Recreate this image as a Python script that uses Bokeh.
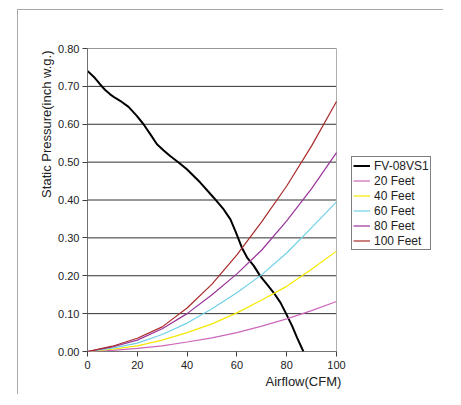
import numpy as np
from bokeh.plotting import figure
from bokeh.models import Legend, LegendItem, Title, NumeralTickFormatter, FixedTicker, Range1d
from bokeh.embed import file_html
from bokeh.resources import INLINE

# Fan curve (FV-08VS1)
fan_x = [0, 3, 5.1, 7, 9.1, 11, 13.1, 16.5, 19.8, 22.5, 25.2, 27.9, 30.6, 33.2, 36.6, 39.9, 45.3, 50.7, 54.7,
         57.4, 59.4, 60.7, 62, 64.1, 66.8, 69.4, 72.1, 74.8, 77.5, 79.9, 82.2, 84.2, 86.7]
fan_y = [0.741, 0.722, 0.705, 0.691, 0.679, 0.670, 0.662, 0.646, 0.622, 0.600, 0.574, 0.547, 0.531, 0.516,
         0.499, 0.481, 0.446, 0.406, 0.375, 0.349, 0.318, 0.296, 0.274, 0.248, 0.226, 0.199, 0.177, 0.155,
         0.129, 0.098, 0.067, 0.036, 0.0]

# System curves
sys_x = [0, 10, 20, 30, 40, 50, 60, 70, 80, 90, 100]
feet20 = [0, 0.003, 0.008, 0.015, 0.025, 0.036, 0.050, 0.067, 0.086, 0.108, 0.132]
feet40 = [0, 0.006, 0.015, 0.030, 0.050, 0.073, 0.102, 0.136, 0.172, 0.217, 0.265]
feet60 = [0, 0.009, 0.022, 0.045, 0.075, 0.113, 0.155, 0.203, 0.260, 0.327, 0.395]
feet80 = [0, 0.012, 0.030, 0.060, 0.100, 0.150, 0.205, 0.268, 0.345, 0.430, 0.525]
feet100 = [0, 0.014, 0.035, 0.065, 0.115, 0.178, 0.255, 0.343, 0.437, 0.543, 0.660]

series_names = ["FV-08VS1", "20 Feet", "40 Feet", "60 Feet", "80 Feet", "100 Feet"]
y_ticks = [0, 0.1, 0.2, 0.3, 0.4, 0.5, 0.6, 0.7, 0.8]
x_ticks = [0, 20, 40, 60, 80, 100]

FONT = "Liberation Sans"
X_MAX = 100
Y_MAX = 0.8

W, H = 426, 385
ML, MR, MT, MB = 69, 0, 38, 44
frame_w = W - ML - MR
# x=100 sits at 249 px from frame left; the frame continues to hold the legend
x_end = X_MAX * frame_w / 249.0

p = figure(width=W, height=H, output_backend="svg", toolbar_location=None,
           x_range=Range1d(0, x_end), y_range=Range1d(0, Y_MAX),
           min_border_left=ML, min_border_top=MT, min_border_right=MR, min_border_bottom=MB)
p.styles = {"border-top": "1px solid #a8a8a8", "border-left": "1px solid #a8a8a8",
            "margin-left": "17px", "margin-top": "9px"}
p.background_fill_color = "white"
p.border_fill_color = "white"
p.outline_line_color = None
p.grid.grid_line_color = None

p.xaxis.ticker = FixedTicker(ticks=x_ticks)
p.yaxis.ticker = FixedTicker(ticks=y_ticks)
p.yaxis.formatter = NumeralTickFormatter(format="0.00")
for ax in (p.xaxis[0], p.yaxis[0]):
    ax.axis_line_color = "#707070"
    ax.major_tick_line_color = "#404040"
    ax.major_tick_out = 5
    ax.major_tick_in = 0
    ax.minor_tick_line_color = None
    ax.major_label_text_font = FONT
    ax.major_label_text_font_size = "11px"
    ax.major_label_text_color = "#222222"
p.xaxis.axis_line_color = None
p.xaxis.major_label_standoff = 4
p.yaxis.major_label_standoff = 3

# horizontal gridlines limited to the data area
n = len(y_ticks)
p.segment(x0=[0] * n, x1=[X_MAX] * n, y0=y_ticks, y1=y_ticks, line_color="#303030", line_width=1)
# right border of the plot area and bottom axis line
p.segment(x0=[X_MAX], x1=[X_MAX], y0=[0], y1=[Y_MAX], line_color="#b0b0b0", line_width=1)
p.segment(x0=[0], x1=[X_MAX], y0=[0], y1=[0], line_color="#505050", line_width=1)

colors = ["#cc66bb", "#f5e800", "#70d0e8", "#993399", "#aa2a2a"]

r_fan = p.line(fan_x, fan_y, line_color="black", line_width=2)
r_list = [r_fan]
for ys, c in zip([feet20, feet40, feet60, feet80, feet100], colors):
    r_list.append(p.line(sys_x, ys, line_color=c, line_width=1.2))

legend = Legend(items=[LegendItem(label=nm, renderers=[r]) for nm, r in zip(series_names, r_list)],
                location=(264, 101), label_text_font=FONT, label_text_font_size="12px",
                label_text_color="#222222", glyph_width=17, glyph_height=15, label_height=15,
                label_standoff=4, spacing=0, padding=1, margin=0,
                border_line_color="black", border_line_width=1.5, background_fill_color="white")
p.add_layout(legend, "center")

p.add_layout(Title(text="Static Pressure(inch w.g.)", align="right", offset=2, text_font=FONT,
                   text_font_size="13px", text_font_style="normal", text_color="#222222",
                   standoff=4), "left")
p.add_layout(Title(text="Airflow(CFM)", align="left", offset=178, text_font=FONT,
                   text_font_size="13px", text_font_style="normal", text_color="#222222",
                   standoff=0), "below")

open("out.html", "w").write(file_html(p, INLINE))
